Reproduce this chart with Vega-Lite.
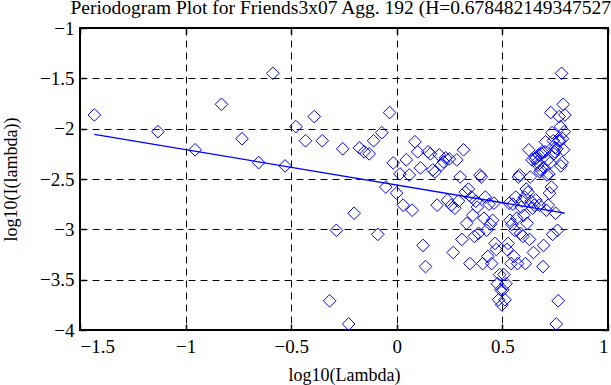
{
  "$schema": "https://vega.github.io/schema/vega-lite/v6.json",
  "width": 528,
  "height": 302,
  "autosize": {"type": "none"},
  "padding": {"left": 80, "top": 28, "right": 3, "bottom": 55},
  "background": "white",
  "title": {
    "text": "Periodogram Plot for Friends3x07 Agg. 192 (H=0.678482149347527)",
    "font": "Liberation Serif",
    "fontSize": 19.5,
    "fontWeight": "normal",
    "color": "black",
    "anchor": "middle",
    "offset": 1
  },
  "config": {
    "font": "Liberation Serif",
    "view": {"stroke": "black", "strokeWidth": 2},
    "axis": {
      "labelFont": "Liberation Serif",
      "labelFontSize": 19,
      "labelColor": "black",
      "titleFont": "Liberation Serif",
      "titleFontSize": 18,
      "titleFontWeight": "normal",
      "titleColor": "black",
      "domain": false,
      "tickColor": "black",
      "tickWidth": 1.5,
      "tickSize": -6,
      "gridColor": "black",
      "gridOpacity": 1,
      "gridDash": [7, 5],
      "gridWidth": 1
    },
    "style": {"guide-label": {"font": "Liberation Serif"}, "guide-title": {"font": "Liberation Serif"}}
  },
  "datasets": {
    "pts": [
      {"x": -1.432, "y": -1.864}, {"x": -1.131, "y": -2.03}, {"x": -0.955, "y": -2.21}, {"x": -0.830, "y": -1.758},
      {"x": -0.733, "y": -2.10}, {"x": -0.654, "y": -2.337}, {"x": -0.587, "y": -1.45}, {"x": -0.529, "y": -2.37},
      {"x": -0.478, "y": -1.98}, {"x": -0.432, "y": -2.12}, {"x": -0.391, "y": -1.88}, {"x": -0.353, "y": -2.12},
      {"x": -0.318, "y": -3.71}, {"x": -0.286, "y": -3.01}, {"x": -0.256, "y": -2.20}, {"x": -0.228, "y": -3.94},
      {"x": -0.202, "y": -2.84}, {"x": -0.177, "y": -2.19}, {"x": -0.154, "y": -2.23}, {"x": -0.131, "y": -2.25},
      {"x": -0.110, "y": -2.12}, {"x": -0.090, "y": -3.05}, {"x": -0.071, "y": -2.04}, {"x": -0.052, "y": -2.58},
      {"x": -0.034, "y": -1.84}, {"x": -0.017, "y": -2.34}, {"x": -0.001, "y": -2.64}, {"x": 0.015, "y": -2.45},
      {"x": 0.030, "y": -2.76}, {"x": 0.045, "y": -2.31}, {"x": 0.059, "y": -2.46}, {"x": 0.073, "y": -2.81},
      {"x": 0.086, "y": -2.13}, {"x": 0.099, "y": -2.23}, {"x": 0.112, "y": -2.39}, {"x": 0.124, "y": -3.16},
      {"x": 0.136, "y": -3.37}, {"x": 0.148, "y": -2.23}, {"x": 0.159, "y": -2.25}, {"x": 0.170, "y": -2.41},
      {"x": 0.181, "y": -2.43}, {"x": 0.191, "y": -2.76}, {"x": 0.201, "y": -2.26}, {"x": 0.211, "y": -2.36},
      {"x": 0.221, "y": -2.33}, {"x": 0.231, "y": -2.29}, {"x": 0.240, "y": -2.71}, {"x": 0.249, "y": -2.30},
      {"x": 0.258, "y": -2.76}, {"x": 0.267, "y": -3.23}, {"x": 0.275, "y": -2.79}, {"x": 0.284, "y": -2.31},
      {"x": 0.292, "y": -2.72}, {"x": 0.300, "y": -2.48}, {"x": 0.308, "y": -3.10}, {"x": 0.316, "y": -2.21},
      {"x": 0.324, "y": -2.63}, {"x": 0.331, "y": -2.94}, {"x": 0.339, "y": -2.60}, {"x": 0.346, "y": -3.34},
      {"x": 0.353, "y": -2.68}, {"x": 0.360, "y": -2.86}, {"x": 0.367, "y": -3.07}, {"x": 0.374, "y": -2.72},
      {"x": 0.381, "y": -2.78}, {"x": 0.387, "y": -3.04}, {"x": 0.394, "y": -2.46}, {"x": 0.400, "y": -2.48},
      {"x": 0.407, "y": -3.34}, {"x": 0.413, "y": -2.89}, {"x": 0.419, "y": -2.68}, {"x": 0.425, "y": -3.01},
      {"x": 0.431, "y": -3.27}, {"x": 0.437, "y": -2.75}, {"x": 0.443, "y": -2.95}, {"x": 0.449, "y": -3.34},
      {"x": 0.454, "y": -2.91}, {"x": 0.460, "y": -2.74}, {"x": 0.465, "y": -3.14}, {"x": 0.471, "y": -3.20},
      {"x": 0.476, "y": -3.54}, {"x": 0.482, "y": -3.70}, {"x": 0.487, "y": -3.45}, {"x": 0.492, "y": -3.60},
      {"x": 0.497, "y": -3.75},
      {"x": 0.502, "y": -3.60}, {"x": 0.507, "y": -3.45}, {"x": 0.512, "y": -3.70}, {"x": 0.517, "y": -3.54},
      {"x": 0.522, "y": -3.20}, {"x": 0.527, "y": -3.14}, {"x": 0.532, "y": -2.74}, {"x": 0.536, "y": -2.91},
      {"x": 0.541, "y": -3.34}, {"x": 0.545, "y": -2.95}, {"x": 0.550, "y": -2.75}, {"x": 0.555, "y": -3.27},
      {"x": 0.559, "y": -3.01}, {"x": 0.563, "y": -2.68}, {"x": 0.568, "y": -2.89}, {"x": 0.572, "y": -3.34},
      {"x": 0.576, "y": -2.48}, {"x": 0.581, "y": -2.46}, {"x": 0.585, "y": -3.04}, {"x": 0.589, "y": -2.78},
      {"x": 0.593, "y": -2.72}, {"x": 0.597, "y": -3.07}, {"x": 0.601, "y": -2.86}, {"x": 0.605, "y": -2.68},
      {"x": 0.609, "y": -3.34}, {"x": 0.613, "y": -2.60}, {"x": 0.617, "y": -2.94}, {"x": 0.621, "y": -2.63},
      {"x": 0.625, "y": -2.21}, {"x": 0.628, "y": -3.10}, {"x": 0.632, "y": -2.48}, {"x": 0.636, "y": -2.72},
      {"x": 0.640, "y": -2.31}, {"x": 0.643, "y": -2.79}, {"x": 0.647, "y": -3.23}, {"x": 0.651, "y": -2.76},
      {"x": 0.654, "y": -2.30}, {"x": 0.658, "y": -2.71}, {"x": 0.661, "y": -2.29}, {"x": 0.665, "y": -2.33},
      {"x": 0.668, "y": -2.36}, {"x": 0.672, "y": -2.26}, {"x": 0.675, "y": -2.76}, {"x": 0.678, "y": -2.43},
      {"x": 0.682, "y": -2.41}, {"x": 0.685, "y": -2.25}, {"x": 0.688, "y": -2.23}, {"x": 0.692, "y": -3.37},
      {"x": 0.695, "y": -3.16}, {"x": 0.698, "y": -2.39}, {"x": 0.701, "y": -2.23}, {"x": 0.704, "y": -2.13},
      {"x": 0.708, "y": -2.81}, {"x": 0.711, "y": -2.46}, {"x": 0.714, "y": -2.31}, {"x": 0.717, "y": -2.76},
      {"x": 0.720, "y": -2.45}, {"x": 0.723, "y": -2.64}, {"x": 0.726, "y": -2.34}, {"x": 0.729, "y": -1.84},
      {"x": 0.732, "y": -2.58}, {"x": 0.735, "y": -2.04}, {"x": 0.738, "y": -3.05}, {"x": 0.741, "y": -2.12},
      {"x": 0.744, "y": -2.25}, {"x": 0.747, "y": -2.23}, {"x": 0.750, "y": -2.19}, {"x": 0.752, "y": -2.84},
      {"x": 0.755, "y": -3.94}, {"x": 0.758, "y": -2.20}, {"x": 0.761, "y": -3.01}, {"x": 0.764, "y": -3.71},
      {"x": 0.766, "y": -2.12}, {"x": 0.769, "y": -1.88}, {"x": 0.772, "y": -2.12}, {"x": 0.775, "y": -1.98},
      {"x": 0.777, "y": -2.37}, {"x": 0.780, "y": -1.45}, {"x": 0.783, "y": -2.337}, {"x": 0.785, "y": -2.10},
      {"x": 0.788, "y": -1.758}, {"x": 0.790, "y": -2.21}, {"x": 0.793, "y": -2.03}, {"x": 0.796, "y": -1.864}
    ],
    "fit": [
      {"x": -1.432, "y": -2.056},
      {"x": 0.796, "y": -2.84}
    ]
  },
  "layer": [
    {
      "data": {"name": "pts"},
      "mark": {"type": "point", "shape": "diamond", "size": 160, "filled": false, "stroke": "#0000ff", "strokeWidth": 1, "opacity": 1},
      "encoding": {
        "x": {
          "field": "x", "type": "quantitative",
          "scale": {"domain": [-1.5, 1], "nice": false, "zero": false},
          "axis": {"orient": "bottom", "title": "log10(Lambda)", "format": "~g", "labelFont": "Liberation Serif", "labelFontSize": 19, "values": [-1.5, -1, -0.5, 0, 0.5, 1], "labelPadding": 13, "titlePadding": 10, "grid": true}
        },
        "y": {
          "field": "y", "type": "quantitative",
          "scale": {"domain": [-4, -1], "nice": false, "zero": false},
          "axis": {"orient": "left", "title": "log10(I(lambda))", "format": "~g", "labelFont": "Liberation Serif", "labelFontSize": 19, "values": [-4, -3.5, -3, -2.5, -2, -1.5, -1], "labelPadding": 12, "titlePadding": 19, "grid": true}
        }
      }
    },
    {
      "data": {"name": "fit"},
      "mark": {"type": "line", "color": "#0000ff", "strokeWidth": 1.3},
      "encoding": {
        "x": {
          "field": "x", "type": "quantitative",
          "scale": {"domain": [-1.5, 1], "nice": false, "zero": false},
          "axis": {"orient": "top", "title": null, "labels": false, "grid": false, "values": [-1.5, -1, -0.5, 0, 0.5, 1]}
        },
        "y": {
          "field": "y", "type": "quantitative",
          "scale": {"domain": [-4, -1], "nice": false, "zero": false},
          "axis": {"orient": "right", "title": null, "labels": false, "grid": false, "values": [-4, -3.5, -3, -2.5, -2, -1.5, -1]}
        }
      }
    }
  ],
  "resolve": {"axis": {"x": "independent", "y": "independent"}}
}
